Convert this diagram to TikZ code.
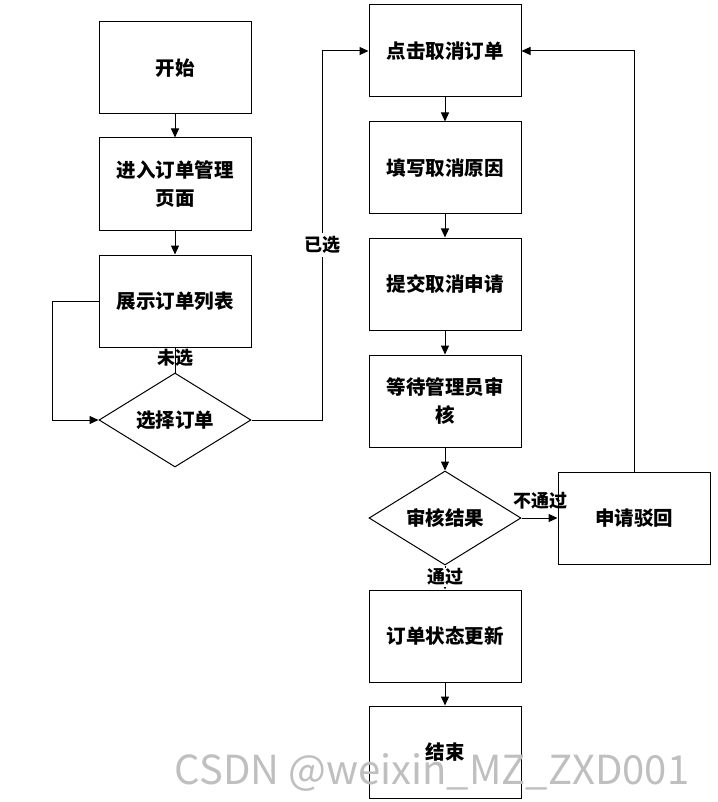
\documentclass[tikz,border=0pt]{standalone}
\usepackage{fontspec}
\setmainfont{Noto Sans CJK SC}
\usetikzlibrary{shapes.geometric,arrows.meta}
\begin{document}
\begin{tikzpicture}[x=1pt,y=-1pt,
 box/.style={draw,line width=1pt,minimum width=152pt,minimum height=92pt,align=center,font=\fontsize{19.5}{28}\selectfont\bfseries},
 dia/.style={draw,line width=1pt,diamond,aspect=1.6,minimum width=152pt,minimum height=94pt,inner sep=0pt,font=\fontsize{19.5}{24}\selectfont\bfseries},
 lab/.style={font=\fontsize{18}{20}\selectfont\bfseries},
 ar/.style={line width=1pt,-{Triangle[length=9pt,width=8pt]}},
 ln/.style={line width=1pt}]
\useasboundingbox (0,0) rectangle (717,802);
\node[box] (start) at (175,68) {开始};
\node[box] (enter) at (175,184) {进入订单管理\\页面};
\node[box] (list) at (175,301) {展示订单列表};
\node[dia] (sel) at (175,420) {选择订单};
\node[box] (click) at (445,51) {点击取消订单};
\node[box] (fill) at (445,168) {填写取消原因};
\node[box] (sub) at (445,284) {提交取消申请};
\node[box] (wait) at (445,401) {等待管理员审\\核};
\node[dia] (res) at (445,518) {审核结果};
\node[box] (rej) at (634,518) {申请驳回};
\node[box] (upd) at (445,636) {订单状态更新};
\node[box] (end) at (445,752) {结束};
\draw[ar] (start) -- (enter);
\draw[ar] (enter) -- (list);
\draw[ln] (sel.north) -- (list.south);
\node[lab] at (175,358) {未选};
\draw[ar] (list.west) -- (52,301) -- (52,420) -- (sel.west);
\draw[ar] (sel.east) -- (322,420) -- (322,51) -- (click.west);
\node[lab,fill=white] at (322,245) {已选};
\draw[ar] (click) -- (fill);
\draw[ar] (fill) -- (sub);
\draw[ar] (sub) -- (wait);
\draw[ar] (wait) -- (res);
\draw[ar] (res.east) -- (rej.west);
\node[lab] at (540,501) {不通过};
\draw[ar] (rej.north) -- (634,51) -- (click.east);
\draw[ar] (res.south) -- (upd.north);
\node[lab,fill=white,inner sep=1pt] at (445,577) {通过};
\draw[ar] (upd) -- (end);
\node[text=black!25,font=\fontsize{40}{44}\selectfont] at (432,772) {CSDN @weixin\_MZ\_ZXD001};
\end{tikzpicture}
\end{document}
